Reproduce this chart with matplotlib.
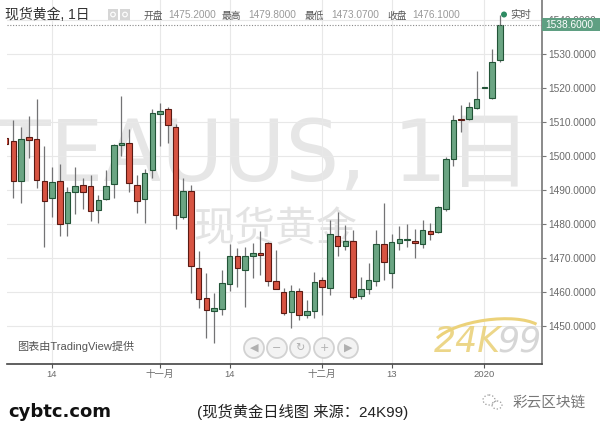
import matplotlib
matplotlib.use('Agg')
import matplotlib.pyplot as plt
import matplotlib.transforms as mtransforms
from matplotlib.patches import Circle, Rectangle, Arc, Ellipse
import numpy as np

plt.rcParams['font.family'] = ['Liberation Sans', 'Noto Sans CJK SC', 'DejaVu Sans']

# ---------------- data ----------------
opens = [1505.2, 1504.4, 1492.6, 1505.5, 1504.9, 1492.7, 1487.6, 1492.7, 1480.2, 1489.5,
         1491.4, 1491.3, 1484.0, 1487.4, 1491.7, 1503.2, 1503.7, 1491.4, 1487.3, 1495.9,
         1512.3, 1513.8, 1508.6, 1482.2, 1489.8, 1467.1, 1458.1, 1454.5, 1454.9, 1462.4,
         1470.6, 1466.5, 1470.6, 1471.5, 1474.3, 1463.3, 1459.9, 1454.2, 1460.4, 1453.2,
         1454.5, 1463.5, 1461.3, 1476.6, 1473.6, 1475.0, 1458.8, 1460.9, 1463.3, 1474.0,
         1465.5, 1474.5, 1475.2, 1475.1, 1474.1, 1477.9, 1477.5, 1484.3, 1499.0, 1510.8,
         1510.8, 1514.0, 1519.9, 1517.0, 1528.2]
highs = [1505.2, 1510.6, 1508.4, 1511.9, 1516.8, 1502.9, 1496.9, 1497.7, 1491.0, 1496.9,
         1493.4, 1494.5, 1488.5, 1495.9, 1503.5, 1517.7, 1507.8, 1494.3, 1496.1, 1513.8,
         1515.5, 1514.5, 1509.4, 1493.6, 1491.5, 1472.1, 1465.5, 1459.6, 1466.5, 1474.1,
         1472.9, 1473.3, 1474.5, 1478.0, 1474.8, 1472.4, 1461.1, 1462.0, 1461.1, 1457.5,
         1465.9, 1464.5, 1481.2, 1483.6, 1479.7, 1478.2, 1464.5, 1468.4, 1478.2, 1486.3,
         1477.1, 1479.4, 1480.0, 1478.4, 1481.2, 1480.4, 1485.3, 1499.8, 1512.1, 1514.9,
         1516.0, 1525.0, 1519.9, 1531.4, 1541.5]
lows = [1503.5, 1487.5, 1486.3, 1499.5, 1490.5, 1473.3, 1482.1, 1476.5, 1476.5, 1482.9,
        1484.3, 1481.0, 1480.2, 1487.0, 1487.5, 1500.0, 1489.5, 1483.1, 1480.4, 1493.4,
        1502.9, 1503.9, 1478.4, 1481.4, 1459.8, 1455.2, 1446.5, 1445.0, 1453.2, 1460.4,
        1461.6, 1455.7, 1464.0, 1465.0, 1461.8, 1460.9, 1453.2, 1449.3, 1451.8, 1452.3,
        1452.3, 1453.2, 1459.1, 1470.7, 1472.4, 1458.0, 1458.0, 1459.3, 1461.9, 1463.5,
        1461.3, 1472.4, 1473.3, 1469.9, 1472.8, 1475.3, 1477.3, 1483.9, 1497.2, 1507.2,
        1510.6, 1513.8, 1519.9, 1516.8, 1527.7]
closes = [1503.5, 1492.6, 1504.9, 1504.8, 1492.9, 1486.9, 1492.4, 1480.0, 1489.3, 1491.1,
          1489.3, 1483.7, 1487.2, 1491.3, 1503.2, 1503.8, 1492.0, 1486.9, 1495.1, 1512.5,
          1513.3, 1509.1, 1482.6, 1489.8, 1467.5, 1457.8, 1454.7, 1455.2, 1462.5, 1470.6,
          1467.0, 1470.6, 1471.6, 1470.8, 1463.3, 1460.9, 1453.9, 1460.4, 1453.2, 1454.5,
          1462.8, 1461.4, 1477.0, 1473.6, 1475.0, 1458.6, 1460.8, 1463.5, 1474.0, 1468.7,
          1474.8, 1475.6, 1475.5, 1474.3, 1478.2, 1477.2, 1485.1, 1499.0, 1510.6, 1510.5,
          1514.5, 1516.8, 1519.9, 1527.5, 1538.6]
tick_pos = [6, 20, 29, 41, 50, 62]
tick_labels = ['14', '十一月', '14', '十二月', '13', '2020']
price_ticks = [1450, 1460, 1470, 1480, 1490, 1500, 1510, 1520, 1530, 1540]
last_price = 1538.6
header_title = '现货黄金, 1日'
ohlc_labels = ['开盘', '最高', '最低', '收盘']
ohlc_values = ['1475.2000', '1479.8000', '1473.0700', '1476.1000']

# ---------------- figure ----------------
W, H = 600, 425
fig = plt.figure(figsize=(W / 100, H / 100), dpi=100)
fig.patch.set_facecolor('white')
pixT = mtransforms.Affine2D().scale(1, -1).translate(0, H)

ax = fig.add_axes([6.7 / W, 61 / H, (542 - 6.7) / W, 364 / H])
ax.set_facecolor('white')
ax.set_xlim(0.13, 69.47)
ax.set_ylim(1438.82, 1545.88)

# watermarks
ax.text(532, 181, 'TEAUUS, 1日', transform=pixT, ha='right', va='baseline',
        fontsize=61, color='#e6e6e6', zorder=0.2,
        family=['DejaVu Sans', 'Noto Sans CJK SC'])
ax.text(193, 230, '现货黄金', transform=pixT, ha='left', va='center',
        fontsize=29.5, color='#e3e3e3', zorder=0.2, family=['Noto Sans CJK SC'])

ax.grid(True, color='#e8e8e8', lw=0.8)
ax.set_axisbelow(True)

x = np.arange(len(opens))
o = np.array(opens); c = np.array(closes); hi = np.array(highs); lo = np.array(lows)
up = c >= o
ax.vlines(x, lo, hi, color='#737375', lw=0.9, zorder=2)
bottom = np.minimum(o, c)
height = np.maximum(np.abs(c - o), 0.25)
ax.bar(x[up], height[up], bottom=bottom[up], width=0.72, color='#6ba583',
       edgecolor='#225437', lw=0.8, zorder=3)
ax.bar(x[~up], height[~up], bottom=bottom[~up], width=0.72, color='#d75442',
       edgecolor='#5b1a13', lw=0.8, zorder=3)

ax.axhline(last_price, ls=(0, (1, 1.5)), color='#888888', lw=0.8, zorder=4)

# axes styling
ax.yaxis.tick_right()
ax.set_yticks(price_ticks)
ax.set_yticklabels([f'{v:.4f}' for v in price_ticks])
ax.tick_params(axis='y', length=3, width=0.8, color='#777777', labelcolor='#6a6a6a',
               labelsize=7.3, pad=1.5)
ax.set_xticks(tick_pos)
ax.set_xticklabels(tick_labels)
ax.tick_params(axis='x', length=3, width=0.8, color='#555555', labelcolor='#6a6a6a',
               labelsize=6.8, pad=1.5)
for s in ['top', 'left']:
    ax.spines[s].set_visible(False)
ax.spines['right'].set_color('#777777')
ax.spines['right'].set_linewidth(1.2)
ax.spines['bottom'].set_color('#444444')
ax.spines['bottom'].set_linewidth(1.2)

# header
fig.text(5, 15, header_title, transform=pixT, ha='left', va='center', fontsize=10,
         color='#333333')
for xx in (108, 120):
    fig.add_artist(Rectangle((xx, 9), 10, 11, transform=pixT, facecolor='#d6d6d6',
                             edgecolor='none'))
    fig.add_artist(Circle((xx + 5, 14.5), 2.3, transform=pixT, facecolor='none',
                          edgecolor='white', lw=0.8))
lab_x = [143, 222, 305, 387]
val_x = [168, 248, 331, 412]
for lx, vx, lab, val in zip(lab_x, val_x, ohlc_labels, ohlc_values):
    fig.text(lx, 15.5, lab, transform=pixT, ha='left', va='center', fontsize=7,
             color='#555555')
    fig.text(vx, 15.5, val, transform=pixT, ha='left', va='center', fontsize=7.3,
             color='#9a9a9a')
fig.add_artist(Circle((504, 14.5), 3, transform=pixT, facecolor='#2e8b62',
                      edgecolor='none'))
fig.text(510, 14.5, '实时', transform=pixT, ha='left', va='center', fontsize=7.5,
         color='#555555')

# last price tag
fig.add_artist(Rectangle((542, 18), 58, 13, transform=pixT, facecolor='#5f9f82',
                         edgecolor='none', zorder=5))
fig.text(545, 24.8, f'{last_price:.4f}', transform=pixT, ha='left', va='center',
         fontsize=7.3, color='white', zorder=6)

# tradingview credit
fig.text(17, 346, '图表由TradingView提供', transform=pixT, ha='left', va='center',
         fontsize=8, color='#555555')

# navigation buttons
syms = ['◀', '−', '↻', '+', '▶']
for cx, sym in zip([254, 277, 300, 324, 348], syms):
    fig.add_artist(Circle((cx, 348), 10, transform=pixT, facecolor='#f3f3f3',
                          edgecolor='#d2d2d2', lw=1.3))
    fig.text(cx, 348, sym, transform=pixT, ha='center', va='center', fontsize=8,
             color='#b0b0b0', family=['DejaVu Sans'])

# 24K99 logo
fig.add_artist(Arc((488, 340), 112, 40, angle=-8, theta1=190, theta2=350,
                   transform=pixT, color='#ecd27a', lw=2.2))
fig.text(434, 342, '24K', transform=pixT, ha='left', va='center', fontsize=25,
         color='#ead27c', style='italic', family=['DejaVu Sans'], alpha=0.9)
fig.text(497, 342, '99', transform=pixT, ha='left', va='center', fontsize=25,
         color='#d2d2d2', style='italic', family=['DejaVu Sans'], alpha=0.9)

# bottom texts
fig.text(8, 412, 'cybtc.com', transform=pixT, ha='left', va='center', fontsize=13,
         color='#111111', weight='bold', family=['DejaVu Sans'])
fig.text(197, 412, '(现货黄金日线图 来源：24K99)', transform=pixT, ha='left',
         va='center', fontsize=11, color='#222222')
fig.add_artist(Ellipse((489, 400), 12, 10, transform=pixT, facecolor='none',
                       edgecolor='#999999', lw=0.9, ls=':'))
fig.add_artist(Ellipse((497, 405), 10, 8, transform=pixT, facecolor='none',
                       edgecolor='#999999', lw=0.9, ls=':'))
fig.text(513, 403, '彩云区块链', transform=pixT, ha='left', va='center', fontsize=10.5,
         color='#777777')

fig.savefig('out.png', dpi=100)
